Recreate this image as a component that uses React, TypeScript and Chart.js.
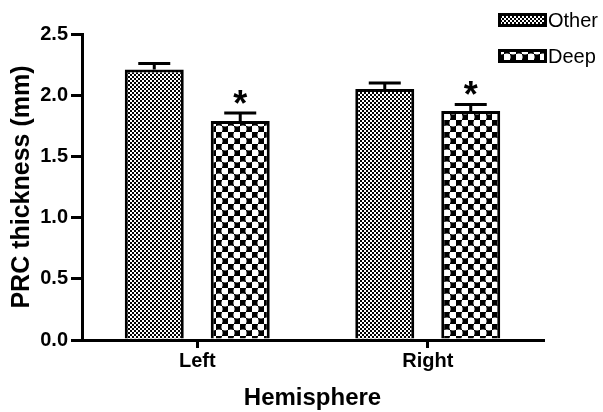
import { useEffect, useRef } from "react";
import { Chart, registerables } from "chart.js";

Chart.register(...registerables);

const categories = ["Left", "Right"];
const seriesNames = ["Other", "Deep"];
const otherValues = [2.21, 2.05];
const otherErrors = [0.05, 0.05];
const deepValues = [1.79, 1.87];
const deepErrors = [0.065, 0.055];
const deepSignificant = [true, true];
const yTickValues = [0, 0.5, 1.0, 1.5, 2.0, 2.5];

const FONT = "'Liberation Sans', Arial, Helvetica, sans-serif";

function makeOtherPattern(ctx: CanvasRenderingContext2D): CanvasPattern | string {
  const c = document.createElement("canvas");
  c.width = 4;
  c.height = 4;
  const p = c.getContext("2d")!;
  p.fillStyle = "#ffffff";
  p.fillRect(0, 0, 4, 4);
  p.fillStyle = "#000000";
  p.fillRect(0, 0, 2, 2);
  p.fillRect(2, 2, 2, 2);
  return ctx.createPattern(c, "repeat") || "#888";
}

function makeDeepPattern(ctx: CanvasRenderingContext2D): CanvasPattern | string {
  const s = 12;
  const h = s / 2;
  const c = document.createElement("canvas");
  c.width = s;
  c.height = s;
  const p = c.getContext("2d")!;
  p.fillStyle = "#ffffff";
  p.fillRect(0, 0, s, s);
  p.fillStyle = "#000000";
  p.fillRect(0, 0, h, h);
  p.fillRect(h, h, h, h);
  p.fillStyle = "#ffffff";
  const centers = [
    [h + h / 2, h / 2],
    [h / 2, h + h / 2],
  ];
  for (const [cx, cy] of centers) {
    p.beginPath();
    p.arc(cx, cy, 3.6, 0, Math.PI * 2);
    p.fill();
  }
  return ctx.createPattern(c, "repeat") || "#444";
}

export default function App() {
  const ref = useRef<HTMLCanvasElement | null>(null);

  useEffect(() => {
    const canvas = ref.current;
    if (!canvas) return;
    const ctx = canvas.getContext("2d")!;
    const otherFill = makeOtherPattern(ctx);
    const deepFill = makeDeepPattern(ctx);
    const fills = [otherFill, deepFill];
    const allValues = [otherValues, deepValues];
    const allErrors = [otherErrors, deepErrors];

    const errorPlugin = {
      id: "errorBars",
      afterDatasetsDraw(chart: any) {
        const c = chart.ctx as CanvasRenderingContext2D;
        const y = chart.scales.y;
        allValues.forEach((vals, di) => {
          const meta = chart.getDatasetMeta(di);
          meta.data.forEach((bar: any, j: number) => {
            const x = bar.x;
            const top = y.getPixelForValue(vals[j]);
            const capY = y.getPixelForValue(vals[j] + allErrors[di][j]);
            c.save();
            c.strokeStyle = "#000";
            c.lineWidth = 3;
            c.beginPath();
            c.moveTo(x, top);
            c.lineTo(x, capY);
            c.moveTo(x - 16, capY);
            c.lineTo(x + 16, capY);
            c.stroke();
            if (di === 1 && deepSignificant[j]) {
              c.fillStyle = "#000";
              c.font = `bold 36px ${FONT}`;
              c.textAlign = "center";
              c.textBaseline = "alphabetic";
              c.fillText("*", x, capY + 3);
            }
            c.restore();
          });
        });
      },
    };

    const legendPlugin = {
      id: "customLegend",
      afterDraw(chart: any) {
        const c = chart.ctx as CanvasRenderingContext2D;
        const x0 = chart.width - 105;
        const tops = [13, 49];
        seriesNames.forEach((name, i) => {
          c.save();
          c.fillStyle = fills[i] as any;
          c.fillRect(x0, tops[i], 49, 14);
          c.strokeStyle = "#000";
          c.lineWidth = 3;
          c.strokeRect(x0 + 1.5, tops[i] + 1.5, 46, 11);
          c.fillStyle = "#000";
          c.font = `20px ${FONT}`;
          c.textAlign = "left";
          c.textBaseline = "middle";
          c.fillText(name, x0 + 50, tops[i] + 8);
          c.restore();
        });
      },
    };

    const chart = new Chart(canvas, {
      type: "bar",
      data: {
        labels: categories,
        datasets: [
          {
            label: seriesNames[0],
            data: otherValues,
            backgroundColor: otherFill as any,
            borderColor: "#000",
            borderWidth: 3,
            borderSkipped: "start",
            categoryPercentage: 0.746,
            barPercentage: 0.686,
          },
          {
            label: seriesNames[1],
            data: deepValues,
            backgroundColor: deepFill as any,
            borderColor: "#000",
            borderWidth: 3,
            borderSkipped: "start",
            categoryPercentage: 0.746,
            barPercentage: 0.686,
          },
        ],
      },
      options: {
        responsive: false,
        animation: false,
        devicePixelRatio: 1,
        layout: { padding: { top: 34, right: 60, left: 0, bottom: 0 } },
        plugins: {
          legend: { display: false },
          tooltip: { enabled: false },
        },
        scales: {
          x: {
            offset: true,
            grid: {
              offset: false,
              drawOnChartArea: false,
              drawTicks: true,
              tickLength: 8,
              color: "#000",
              lineWidth: 3,
            },
            border: { display: true, color: "#000", width: 3 },
            ticks: {
              color: "#000",
              font: { family: FONT, size: 20, weight: "bold" },
              padding: 1,
            },
            title: {
              display: true,
              text: "Hemisphere",
              color: "#000",
              font: { family: FONT, size: 24, weight: "bold", lineHeight: 1 },
              padding: { top: 0, bottom: 1.5 },
            },
            afterFit(scale: any) {
              scale.height = 72;
            },
          },
          y: {
            min: 0,
            max: 2.5,
            afterBuildTicks(scale: any) {
              scale.ticks = yTickValues.map((v) => ({ value: v }));
            },
            grid: {
              drawOnChartArea: false,
              drawTicks: true,
              tickLength: 11,
              color: "#000",
              lineWidth: 3,
            },
            border: { display: true, color: "#000", width: 3 },
            ticks: {
              color: "#000",
              font: { family: FONT, size: 20, weight: "bold" },
              padding: 3,
              callback: (v: any) => Number(v).toFixed(1),
            },
            title: {
              display: true,
              text: "PRC thickness (mm)",
              color: "#000",
              font: { family: FONT, size: 25, weight: "bold", lineHeight: 1 },
              padding: { top: 10, bottom: 0 },
            },
            afterFit(scale: any) {
              scale.width = 82;
            },
          },
        },
      },
      plugins: [errorPlugin, legendPlugin],
    });

    return () => chart.destroy();
  }, []);

  return (
    <div style={{ position: "absolute", left: 0, top: 0, width: 603, height: 412, background: "#fff" }}>
      <canvas ref={ref} width={603} height={412} style={{ display: "block" }} />
    </div>
  );
}
